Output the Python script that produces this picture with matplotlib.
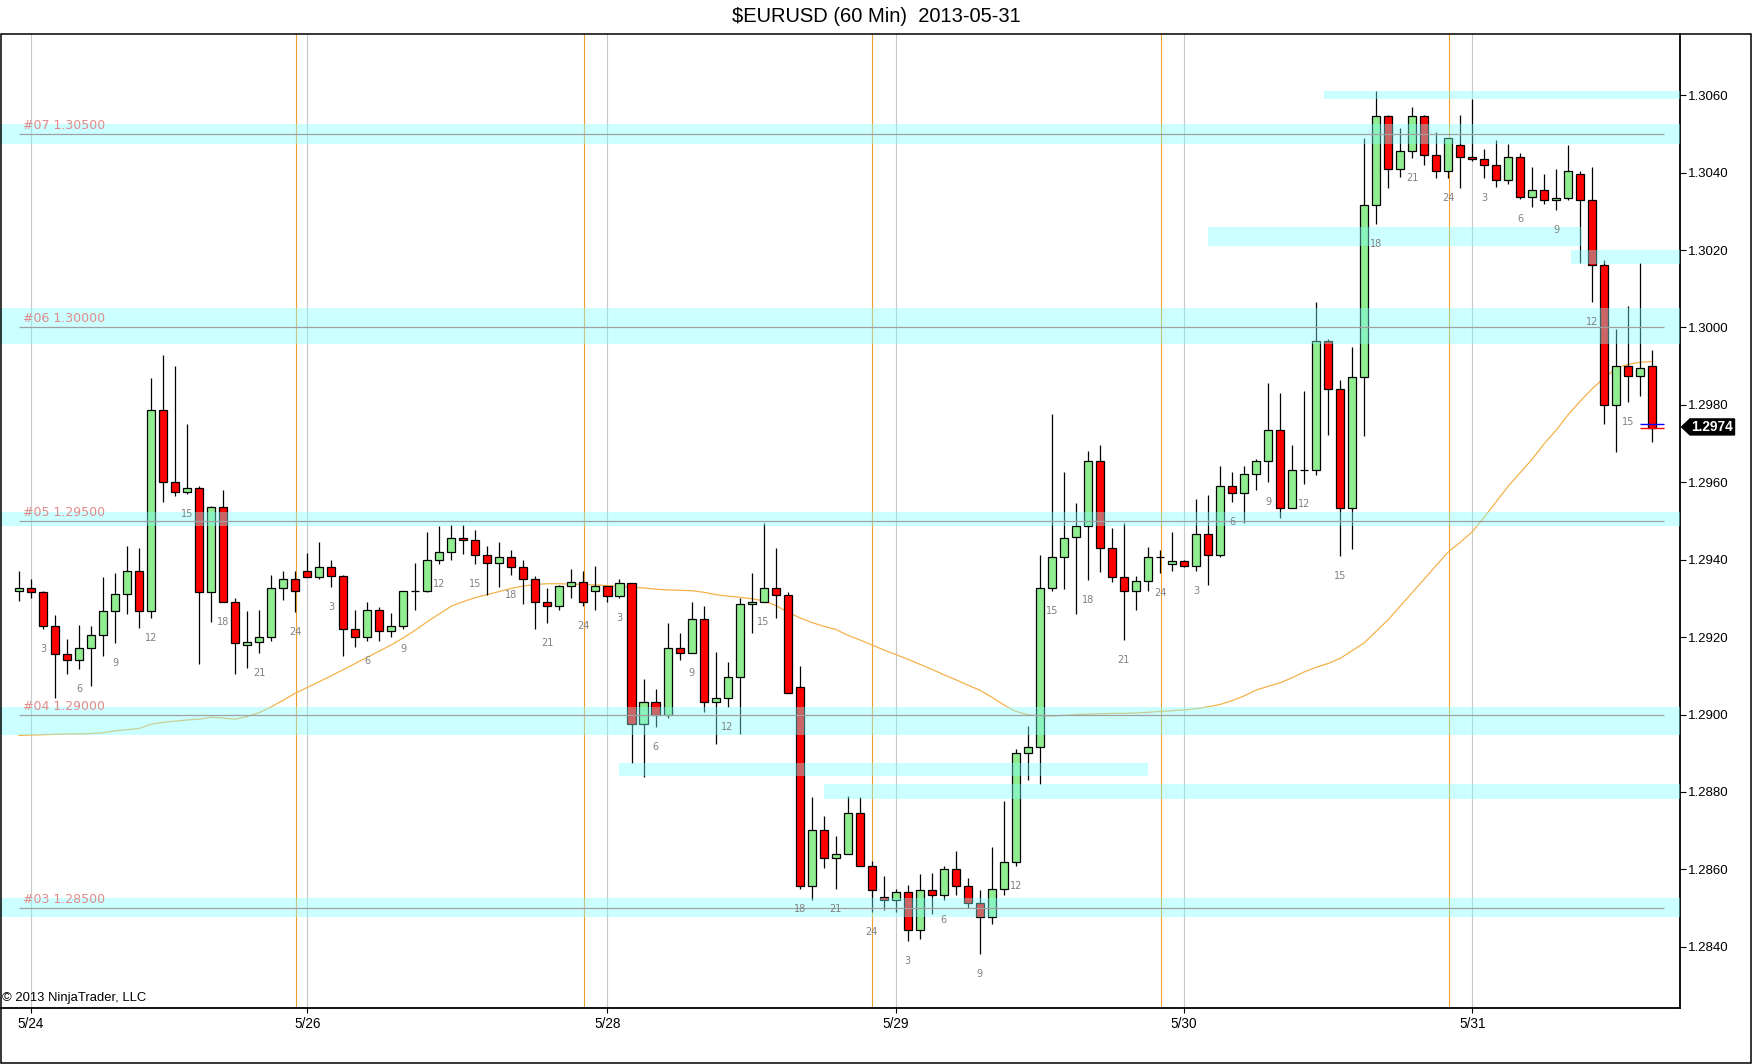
import matplotlib
matplotlib.use("Agg")
import matplotlib.pyplot as plt
import matplotlib.transforms as mtransforms
from matplotlib.patches import Rectangle, Polygon

# hourly EURUSD bars, 5/24 .. 5/31
opens = [
    1.29320, 1.29326, 1.29316, 1.29230, 1.29156, 1.29140, 1.29171, 1.29205, 1.29267, 1.29311,
    1.29371, 1.29267, 1.29787, 1.29602, 1.29574, 1.29584, 1.29316, 1.29535, 1.29290, 1.29180,
    1.29188, 1.29200, 1.29326, 1.29350, 1.29370, 1.29355, 1.29380, 1.29359, 1.29220, 1.29200,
    1.29269, 1.29215, 1.29230, 1.29320, 1.29320, 1.29400, 1.29420, 1.29455, 1.29450, 1.29411,
    1.29391, 1.29406, 1.29380, 1.29349, 1.29290, 1.29280, 1.29331, 1.29342, 1.29320, 1.29331,
    1.29305, 1.29340, 1.28975, 1.29032, 1.29000, 1.29172, 1.29160, 1.29247, 1.29032, 1.29042,
    1.29096, 1.29285, 1.29290, 1.29326, 1.29310, 1.29070, 1.28556, 1.28701, 1.28630, 1.28641,
    1.28745, 1.28610, 1.28530, 1.28520, 1.28541, 1.28444, 1.28546, 1.28535, 1.28600, 1.28556,
    1.28512, 1.28476, 1.28550, 1.28620, 1.28900, 1.28916, 1.29326, 1.29406, 1.29458, 1.29486,
    1.29654, 1.29430, 1.29355, 1.29320, 1.29344, 1.29406, 1.29390, 1.29396, 1.29385, 1.29466,
    1.29411, 1.29590, 1.29572, 1.29621, 1.29654, 1.29734, 1.29534, 1.29631, 1.29631, 1.29964,
    1.29840, 1.29534, 1.29871, 1.30316, 1.30547, 1.30409, 1.30456, 1.30547, 1.30445, 1.30404,
    1.30471, 1.30440, 1.30435, 1.30419, 1.30380, 1.30440, 1.30338, 1.30355, 1.30328, 1.30334,
    1.30397, 1.30329, 1.30161, 1.29800, 1.29900, 1.29875, 1.29900,
]
highs = [
    1.29371, 1.29350, 1.29320, 1.29257, 1.29194, 1.29231, 1.29230, 1.29355, 1.29365, 1.29435,
    1.29430, 1.29870, 1.29930, 1.29900, 1.29750, 1.29590, 1.29540, 1.29580, 1.29300, 1.29267,
    1.29270, 1.29360, 1.29371, 1.29370, 1.29417, 1.29446, 1.29400, 1.29360, 1.29270, 1.29290,
    1.29279, 1.29262, 1.29320, 1.29391, 1.29472, 1.29487, 1.29490, 1.29490, 1.29477, 1.29435,
    1.29445, 1.29425, 1.29400, 1.29359, 1.29326, 1.29334, 1.29375, 1.29372, 1.29385, 1.29331,
    1.29350, 1.29340, 1.29092, 1.29066, 1.29236, 1.29210, 1.29291, 1.29280, 1.29161, 1.29136,
    1.29302, 1.29366, 1.29494, 1.29430, 1.29316, 1.29125, 1.28787, 1.28738, 1.28686, 1.28790,
    1.28787, 1.28622, 1.28583, 1.28550, 1.28561, 1.28587, 1.28592, 1.28610, 1.28647, 1.28577,
    1.28546, 1.28658, 1.28776, 1.28910, 1.28970, 1.29413, 1.29777, 1.29626, 1.29546, 1.29680,
    1.29696, 1.29482, 1.29494, 1.29359, 1.29434, 1.29425, 1.29471, 1.29400, 1.29557, 1.29566,
    1.29641, 1.29627, 1.29641, 1.29660, 1.29857, 1.29830, 1.29696, 1.29836, 1.30066, 1.29970,
    1.29863, 1.29950, 1.30490, 1.30610, 1.30550, 1.30516, 1.30570, 1.30550, 1.30505, 1.30489,
    1.30550, 1.30590, 1.30461, 1.30485, 1.30474, 1.30450, 1.30414, 1.30396, 1.30409, 1.30471,
    1.30404, 1.30415, 1.30173, 1.29996, 1.30056, 1.30167, 1.29942,
]
lows = [
    1.29294, 1.29300, 1.29220, 1.29042, 1.29106, 1.29118, 1.29074, 1.29150, 1.29186, 1.29260,
    1.29224, 1.29250, 1.29550, 1.29565, 1.29570, 1.29130, 1.29240, 1.29290, 1.29106, 1.29120,
    1.29160, 1.29190, 1.29295, 1.29264, 1.29355, 1.29350, 1.29330, 1.29150, 1.29175, 1.29190,
    1.29190, 1.29200, 1.29220, 1.29270, 1.29316, 1.29390, 1.29400, 1.29416, 1.29390, 1.29310,
    1.29330, 1.29360, 1.29285, 1.29220, 1.29236, 1.29270, 1.29300, 1.29280, 1.29270, 1.29290,
    1.29300, 1.28876, 1.28840, 1.28968, 1.28990, 1.29140, 1.29160, 1.29006, 1.28925, 1.29020,
    1.28950, 1.29210, 1.29290, 1.29250, 1.29056, 1.28550, 1.28520, 1.28604, 1.28550, 1.28641,
    1.28610, 1.28490, 1.28496, 1.28490, 1.28415, 1.28420, 1.28485, 1.28520, 1.28535, 1.28500,
    1.28381, 1.28460, 1.28535, 1.28610, 1.28830, 1.28820, 1.29320, 1.29325, 1.29260, 1.29348,
    1.29369, 1.29343, 1.29192, 1.29270, 1.29320, 1.29365, 1.29370, 1.29380, 1.29370, 1.29335,
    1.29406, 1.29550, 1.29494, 1.29579, 1.29600, 1.29509, 1.29534, 1.29595, 1.29620, 1.29721,
    1.29410, 1.29428, 1.29720, 1.30268, 1.30360, 1.30389, 1.30438, 1.30419, 1.30385, 1.30385,
    1.30360, 1.30430, 1.30385, 1.30364, 1.30370, 1.30333, 1.30310, 1.30320, 1.30304, 1.30330,
    1.30166, 1.30065, 1.29750, 1.29679, 1.29808, 1.29824, 1.29705,
]
closes = [
    1.29326, 1.29316, 1.29230, 1.29156, 1.29140, 1.29171, 1.29205, 1.29267, 1.29311, 1.29371,
    1.29267, 1.29787, 1.29602, 1.29574, 1.29584, 1.29316, 1.29535, 1.29290, 1.29186, 1.29188,
    1.29200, 1.29326, 1.29350, 1.29320, 1.29355, 1.29380, 1.29359, 1.29220, 1.29200, 1.29269,
    1.29215, 1.29230, 1.29320, 1.29320, 1.29400, 1.29419, 1.29455, 1.29450, 1.29411, 1.29391,
    1.29406, 1.29380, 1.29349, 1.29290, 1.29280, 1.29331, 1.29342, 1.29290, 1.29331, 1.29305,
    1.29340, 1.28975, 1.29032, 1.29000, 1.29172, 1.29160, 1.29247, 1.29032, 1.29042, 1.29096,
    1.29285, 1.29290, 1.29326, 1.29310, 1.29056, 1.28556, 1.28701, 1.28630, 1.28641, 1.28745,
    1.28610, 1.28546, 1.28520, 1.28541, 1.28444, 1.28546, 1.28535, 1.28600, 1.28556, 1.28512,
    1.28476, 1.28550, 1.28620, 1.28900, 1.28916, 1.29326, 1.29406, 1.29455, 1.29486, 1.29654,
    1.29430, 1.29355, 1.29320, 1.29344, 1.29406, 1.29406, 1.29396, 1.29385, 1.29466, 1.29411,
    1.29590, 1.29572, 1.29621, 1.29654, 1.29734, 1.29534, 1.29631, 1.29631, 1.29964, 1.29840,
    1.29534, 1.29871, 1.30316, 1.30547, 1.30409, 1.30456, 1.30547, 1.30445, 1.30404, 1.30489,
    1.30440, 1.30435, 1.30419, 1.30380, 1.30440, 1.30338, 1.30355, 1.30328, 1.30334, 1.30404,
    1.30329, 1.30161, 1.29800, 1.29900, 1.29875, 1.29895, 1.29740,
]
# moving average plotted over the bars
sma = [
    1.28946, 1.28947, 1.28948, 1.28949, 1.28950, 1.28950, 1.28951, 1.28953, 1.28958, 1.28961,
    1.28964, 1.28975, 1.28980, 1.28983, 1.28986, 1.28988, 1.28993, 1.28991, 1.28988, 1.28995,
    1.29005, 1.29020, 1.29037, 1.29055, 1.29070, 1.29085, 1.29100, 1.29116, 1.29132, 1.29148,
    1.29164, 1.29180, 1.29198, 1.29218, 1.29240, 1.29260, 1.29280, 1.29292, 1.29302, 1.29310,
    1.29318, 1.29326, 1.29332, 1.29336, 1.29338, 1.29338, 1.29337, 1.29336, 1.29335, 1.29333,
    1.29331, 1.29329, 1.29327, 1.29324, 1.29322, 1.29321, 1.29320, 1.29316, 1.29310, 1.29306,
    1.29303, 1.29299, 1.29294, 1.29282, 1.29265, 1.29250, 1.29238, 1.29228, 1.29220, 1.29205,
    1.29193, 1.29180, 1.29167, 1.29155, 1.29143, 1.29130, 1.29117, 1.29103, 1.29090, 1.29076,
    1.29063, 1.29045, 1.29025, 1.29008, 1.29000, 1.28997, 1.28996, 1.28998, 1.29000, 1.29001,
    1.29002, 1.29003, 1.29003, 1.29004, 1.29006, 1.29008, 1.29010, 1.29012, 1.29015, 1.29020,
    1.29026, 1.29036, 1.29048, 1.29063, 1.29073, 1.29082, 1.29095, 1.29110, 1.29122, 1.29132,
    1.29145, 1.29165, 1.29185, 1.29215, 1.29245, 1.29280, 1.29315, 1.29350, 1.29385, 1.29420,
    1.29445, 1.29472, 1.29510, 1.29550, 1.29590, 1.29625, 1.29660, 1.29700, 1.29735, 1.29775,
    1.29810, 1.29842, 1.29870, 1.29895, 1.29905, 1.29910, 1.29912,
]

date_bars = [1, 24, 49, 73, 97, 121]
date_labels = ["5/24", "5/26", "5/28", "5/29", "5/30", "5/31"]
session_bars = [23, 47, 71, 95, 119]

level_names = ["#07", "#06", "#05", "#04", "#03"]
level_prices = [1.3050, 1.3000, 1.2950, 1.2900, 1.2850]
level_top = [1.30526, 1.30051, 1.29522, 1.29020, 1.28525]
level_bot = [1.30474, 1.29957, 1.29488, 1.28948, 1.28478]

zone_top = [1.30612, 1.30259, 1.30200, 1.28876, 1.28820]
zone_bot = [1.30590, 1.30211, 1.30164, 1.28841, 1.28782]
zone_start = [108.7, 99.0, 129.2, 50.0, 67.0]
zone_end = [None, 130.1, None, 94.0, None]

yticks = [1.2840, 1.2860, 1.2880, 1.2900, 1.2920, 1.2940, 1.2960, 1.2980,
          1.3000, 1.3020, 1.3040, 1.3060]
last_price = 1.2974
bid, ask = 1.29750, 1.29740

W, H = 1752, 1064
XMIN, XMAX = -1.58, 138.3
YMIN, YMAX = 1.28242, 1.30758

fig = plt.figure(figsize=(W / 100, H / 100), dpi=100)
fig.patch.set_facecolor("white")
ax = fig.add_axes([0, 1 - 1008 / H, 1680 / W, (1008 - 34) / H])
ax.set_xlim(XMIN, XMAX)
ax.set_ylim(YMIN, YMAX)

n = len(opens)
xs = list(range(n))

# day / session separators
for b in date_bars:
    ax.axvline(b, color="#c8c8c8", lw=0.8, zorder=1)
for b in session_bars:
    ax.axvline(b + 0.05, color="#f0a030", lw=0.8, zorder=1)

ax.plot(xs, sma, color="#f5b24a", lw=0.9, zorder=2)

# candles
body_bot = [min(o, c) for o, c in zip(opens, closes)]
body_h = [abs(c - o) for o, c in zip(opens, closes)]
cols = ["#90ee90" if c >= o else "#ff0000" for o, c in zip(opens, closes)]
ax.vlines(xs, lows, highs, color="black", lw=0.9, zorder=3)
ax.bar(xs, body_h, bottom=body_bot, width=0.67, color=cols,
       edgecolor="black", linewidth=0.9, zorder=4)

# hour labels every 3 bars
for i in xs:
    hr = i % 24 + 1
    if hr % 3 == 0:
        ax.annotate(str(hr), (i, lows[i]), xytext=(0, -20), textcoords="offset pixels",
                    ha="center", va="center", fontsize=7, color="#808080",
                    family="DejaVu Sans", zorder=7)

# support / resistance bands
band_c = (0.5, 1.0, 1.0)
for t, b in zip(level_top, level_bot):
    ax.axhspan(b, t, color=band_c, alpha=0.4, lw=0, zorder=5)
for t, b, s, e in zip(zone_top, zone_bot, zone_start, zone_end):
    e = XMAX if e is None else e
    ax.add_patch(Rectangle((s, b), e - s, t - b, facecolor=band_c, alpha=0.4,
                           lw=0, zorder=5))
for nm, p in zip(level_names, level_prices):
    ax.hlines(p, 0, 137, color="#a0a0a0", lw=0.9, zorder=6)
    ax.annotate(f"{nm} {p:.5f}", (0.33, p), xytext=(0, 5), textcoords="offset pixels",
                ha="left", va="baseline", fontsize=9, color="#e08a8a",
                family="DejaVu Sans", zorder=7)

# bid / ask ticks on the last bar
ax.hlines(bid, 135, 137, color="#0000ff", lw=1.0, zorder=6)
ax.hlines(ask, 135, 137, color="#ff0000", lw=1.0, zorder=6)

# axes styling
for s in ["top", "left"]:
    ax.spines[s].set_visible(False)
ax.spines["right"].set_linewidth(1.3)
ax.spines["bottom"].set_linewidth(1.3)
ax.yaxis.tick_right()
ax.set_yticks(yticks)
ax.set_yticklabels([f"{v:.4f}" for v in yticks], family="Liberation Sans", fontsize=9.5)
ax.tick_params(axis="y", direction="out", length=4.5, width=0.8, pad=1)
ax.set_xticks(date_bars)
ax.set_xticklabels(date_labels, family="Liberation Sans", fontsize=9.8)
ax.tick_params(axis="x", direction="out", length=3.5, width=0.8, pad=3)

# last price marker
px_per_y = (1008 - 34) / (YMAX - YMIN)
dy = 8 / px_per_y
tr = mtransforms.blended_transform_factory(ax.transAxes, ax.transData)
y0 = last_price + 0.00003
poly = Polygon([(1681.5 / 1680, y0), (1690 / 1680, y0 + dy), (1734.5 / 1680, y0 + dy),
                (1734.5 / 1680, y0 - dy), (1690 / 1680, y0 - dy)], closed=True,
               facecolor="black", edgecolor="black", transform=tr, clip_on=False, zorder=8)
ax.add_patch(poly)
ax.text(1712 / 1680, y0, f"{last_price:.4f}", transform=tr, ha="center", va="center",
        color="white", fontsize=9.8, fontweight="bold", family="Liberation Sans",
        clip_on=False, zorder=9)

ax.text(2 / 1680, (1008 - 1004) / 974, "\u00a9 2013 NinjaTrader, LLC", transform=ax.transAxes,
        ha="left", va="bottom", fontsize=9.4, family="Liberation Sans", color="black")

fig.text(0.5, 1 - 17 / H, "$EURUSD (60 Min)  2013-05-31", ha="center", va="center",
         fontsize=14.5, family="Liberation Sans")

# outer panel frame
fig.patches.append(Rectangle((0.5 / W, 1.5 / H), 1750 / W, (1062.5 - 34) / H,
                             transform=fig.transFigure, fill=False, edgecolor="black",
                             lw=1.1))

fig.savefig("out.png", dpi=100)
